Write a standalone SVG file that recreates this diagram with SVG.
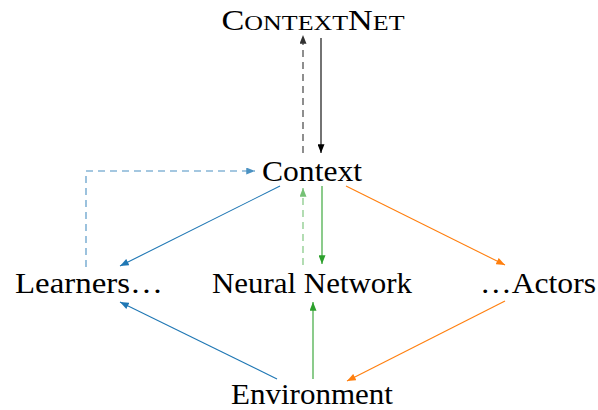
<svg xmlns="http://www.w3.org/2000/svg" width="598" height="410" viewBox="0 0 598 410">
<style>
text{font-family:"Liberation Serif","DejaVu Serif",serif;font-size:29px;fill:#000;text-anchor:middle}
.sc{font-size:22px}
line,polyline{fill:none;stroke-width:1.1}
.k{stroke:#000}
.b{stroke:#1f77b4}
.g{stroke:#2ca02c}
.o{stroke:#ff7f0e}
.d{stroke-dasharray:7,5}
</style>
<defs>
<marker id="mk" viewBox="0 0 10 8" refX="10" refY="4" markerWidth="9" markerHeight="7" markerUnits="userSpaceOnUse" orient="auto"><path d="M0,0L10,4L0,8z" fill="#000"/></marker>
<marker id="mb" viewBox="0 0 10 8" refX="10" refY="4" markerWidth="9" markerHeight="7" markerUnits="userSpaceOnUse" orient="auto"><path d="M0,0L10,4L0,8z" fill="#1f77b4"/></marker>
<marker id="mg" viewBox="0 0 10 8" refX="10" refY="4" markerWidth="9" markerHeight="7" markerUnits="userSpaceOnUse" orient="auto"><path d="M0,0L10,4L0,8z" fill="#2ca02c"/></marker>
<marker id="mo" viewBox="0 0 10 8" refX="10" refY="4" markerWidth="9" markerHeight="7" markerUnits="userSpaceOnUse" orient="auto"><path d="M0,0L10,4L0,8z" fill="#ff7f0e"/></marker>
</defs>
<g id="connectors">
<line class="k d" x1="303" y1="153" x2="303" y2="35" marker-end="url(#mk)" opacity="0.8"/>
<line class="k" x1="321" y1="38" x2="321" y2="153" marker-end="url(#mk)"/>
<polyline class="b d" points="86,267 86,171 255,171" marker-end="url(#mb)" opacity="0.8"/>
<line class="b" x1="280" y1="186" x2="120" y2="266" marker-end="url(#mb)"/>
<line class="g d" x1="303" y1="265" x2="303" y2="188" marker-end="url(#mg)" opacity="0.65"/>
<line class="g" x1="322" y1="186" x2="322" y2="264" marker-end="url(#mg)"/>
<line class="o" x1="346" y1="186" x2="505" y2="265" marker-end="url(#mo)"/>
<line class="b" x1="277" y1="379" x2="120" y2="302" marker-end="url(#mb)"/>
<line class="g" x1="313" y1="379" x2="313" y2="302" marker-end="url(#mg)"/>
<line class="o" x1="505" y1="301" x2="347" y2="381" marker-end="url(#mo)"/>
</g>
<g id="contextnet"><text x="313" y="30" textLength="183" lengthAdjust="spacingAndGlyphs">C<tspan class="sc">ONTEXT</tspan>N<tspan class="sc">ET</tspan></text></g>
<g id="context"><text x="312" y="181" textLength="100" lengthAdjust="spacingAndGlyphs">Context</text></g>
<g id="learners"><text x="89" y="293" textLength="148" lengthAdjust="spacingAndGlyphs">Learners…</text></g>
<g id="neural"><text x="312" y="293" textLength="200" lengthAdjust="spacingAndGlyphs">Neural Network</text></g>
<g id="actors"><text x="538" y="293" textLength="116" lengthAdjust="spacingAndGlyphs">…Actors</text></g>
<g id="environment"><text x="312" y="404" textLength="162" lengthAdjust="spacingAndGlyphs">Environment</text></g>
</svg>
